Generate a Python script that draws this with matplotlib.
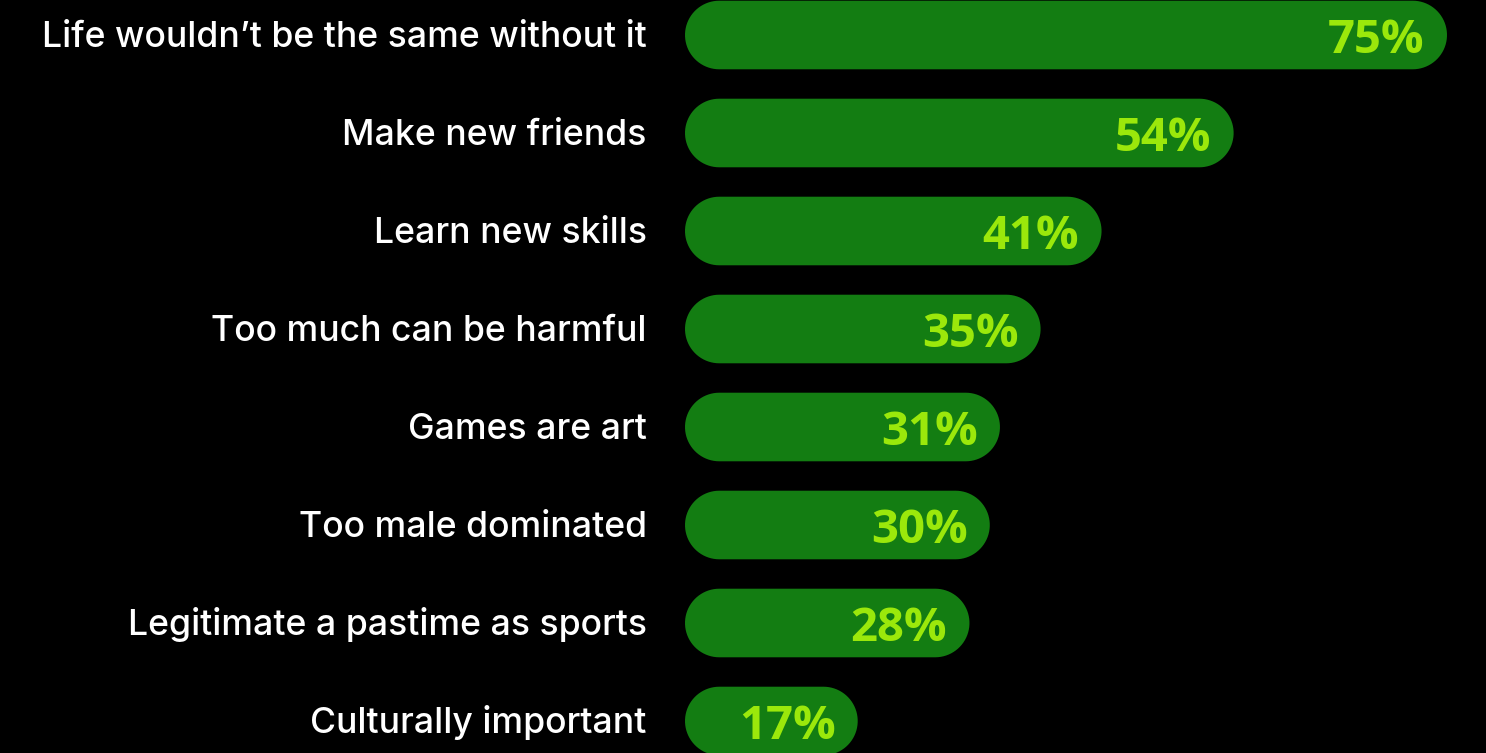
import numpy as np
import matplotlib.pyplot as plt
from matplotlib.patches import Polygon

labels = ["Life wouldn\u2019t be the same without it", "Make new friends", "Learn new skills",
          "Too much can be harmful", "Games are art", "Too male dominated",
          "Legitimate a pastime as sports", "Culturally important"]
values = [75, 54, 41, 35, 31, 30, 28, 17]

bar_color = "#137D12"
pct_color = "#9BE80B"

W, H = 1486, 753
fig = plt.figure(figsize=(W / 100, H / 100), dpi=100, facecolor="black")
x0 = 685
ax = fig.add_axes([x0 / W, 0, 1 - x0 / W, 1], facecolor="black")

px_per_unit = 10.16   # pixels per percent
row_px = 98.0         # pixels per row
ax.set_xlim(0, (W - x0) / px_per_unit)
ax.set_ylim((H - 35) / row_px, -35 / row_px)

bar_h = 0.70
# pill shape: half-height radius, converted to x units
rx = bar_h * row_px / 2 / px_per_unit
ry = bar_h / 2
t = np.linspace(-np.pi / 2, np.pi / 2, 40)


def pill(v, yc):
    right = np.column_stack([v - rx + rx * np.cos(t), yc + ry * np.sin(t)])
    left = np.column_stack([rx - rx * np.cos(t), yc - ry * np.sin(t)])
    return np.vstack([right, left])


for i, v in enumerate(values):
    ax.add_patch(Polygon(pill(v, i), closed=True, fc=bar_color, ec="none"))
    ax.annotate("%d%%" % v, (v, i), xytext=(-16, -12.8), textcoords="offset points",
                ha="right", va="baseline", color=pct_color, fontsize=34,
                fontweight="bold", family="Open Sans")
    ax.annotate(labels[i], (0, i), xytext=(-27.5, -8.3), textcoords="offset points",
                ha="right", va="baseline", color="white", fontsize=25.6,
                fontweight="medium", family="Inter", annotation_clip=False)

ax.set_xticks([])
ax.set_yticks([])
for s in ax.spines.values():
    s.set_visible(False)

fig.savefig("out.png", dpi=100, facecolor="black")
